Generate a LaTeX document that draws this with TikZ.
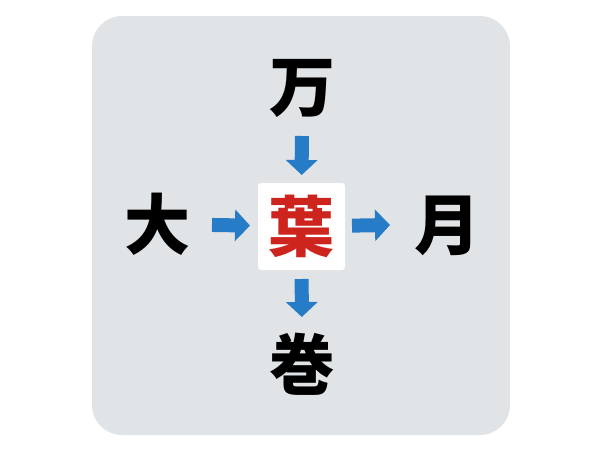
\documentclass[tikz,border=0pt]{standalone}
\usepackage{fontspec}
\newfontfamily\jpfont{Noto Sans CJK JP}
\usetikzlibrary{arrows.meta}
\definecolor{panelgray}{RGB}{225,228,230}
\definecolor{flowblue}{RGB}{38,124,198}
\definecolor{answerred}{RGB}{206,36,30}
\tikzset{
	kanji/.style={inner sep=0pt,font=\jpfont\bfseries\fontsize{66}{66}\selectfont,text height=58pt,text depth=8pt},
	flow/.style={flowblue,line width=14pt,-{Triangle[width=31pt,length=15pt]}}
}
\begin{document}
\begin{tikzpicture}[x=1pt,y=-1pt]
	\useasboundingbox (0,0) rectangle (600,450);
	\fill[panelgray,rounded corners=30pt] (92,16) rectangle (510,435);
	\node[kanji,fill=white,rounded corners=3pt,minimum size=87pt,text=answerred](ye)at(301.5,226.5){葉};
	\node[kanji](wan)at(302,86){万};
	\node[kanji](dai)at(157,224){大};
	\node[kanji](tsuki)at(447,224){月};
	\node[kanji](maki)at(302,364){巻};
	\draw[flow,shorten <=50pt,shorten >=51.5pt](wan.center)--(ye.center);
	\draw[flow,shorten <=55pt,shorten >=51.5pt](dai.center)--(ye.center);
	\draw[flow,shorten <=50.5pt,shorten >=57pt](ye.center)--(tsuki.center);
	\draw[flow,shorten <=52.5pt,shorten >=47pt](ye.center)--(maki.center);
\end{tikzpicture}
\end{document}
